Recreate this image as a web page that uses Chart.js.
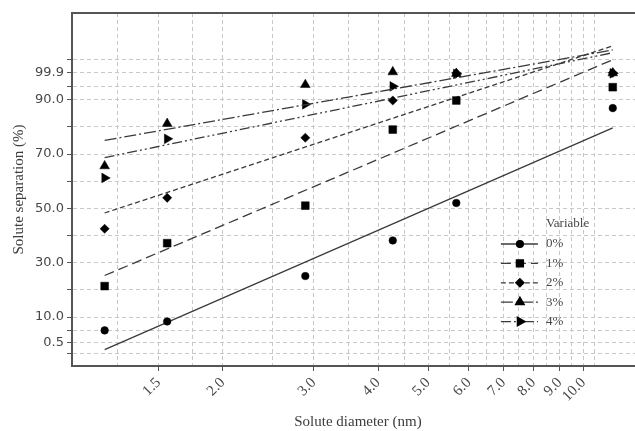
<!DOCTYPE html>
<html>
<head>
<meta charset="utf-8">
<script src="https://cdn.jsdelivr.net/npm/chart.js@4"></script>
<style>
  html, body { margin: 0; padding: 0; background: #fff; overflow: hidden; }
  #wrap { width: 650px; height: 431px; }
</style>
</head>
<body>
<div id="wrap"><canvas id="chart" width="650" height="431"></canvas></div>
<script>
// Solute diameter (nm) of each measured point
const diameters = [1.18, 1.56, 2.89, 4.27, 5.67, 11.4];

// Solute separation (%) per variable level
const sep0 = [5.1, 8.4, 25.1, 38.2, 52.0, 86.9];
const sep1 = [21.4, 37.2, 51.0, 79.0, 89.7, 94.6];
const sep2 = [42.5, 53.9, 76.0, 89.7, 99.8, 99.9];
const sep3 = [65.6, 81.2, 95.5, 100.2, 99.6, 99.8];
const sep4 = [61.2, 75.6, 88.3, 94.9, 99.5, 99.7];

// fitted lines: end points
const fitX = [1.18, 11.4];
const fit0 = [-2.0, 79.6];
const fit1 = [25.3, 104.7];
const fit2 = [48.3, 109.8];
const fit3 = [75.0, 108.3];
const fit4 = [68.7, 107.3];

const seriesNames = ['0%', '1%', '2%', '3%', '4%'];

// axis ticks / grid lines
const xGrid = [1.25, 1.5, 1.75, 2, 2.5, 3, 3.5, 4, 4.5, 5, 5.5, 6, 6.5, 7, 7.5, 8, 8.5, 9, 9.5, 10, 10.5];
const xLabels = [1.5, 2, 3, 4, 5, 6, 7, 8, 9, 10];
const yGrid = [-3.5, 0.5, 5, 10, 20, 30, 40, 50, 60, 70, 80, 90, 95, 99.9, 104.8];
const yLabels = [0.5, 10, 30, 50, 70, 90, 99.9];

const sepData = [sep0, sep1, sep2, sep3, sep4];
const fitData = [fit0, fit1, fit2, fit3, fit4];

// styles
const lineColor = '#3a3a3a';
const gridColor = '#c8c8c8';
const textColor = '#484848';
const dashes = [[], [10, 5], [5, 3], [12, 3, 2, 3], [10, 3, 2, 3, 2, 3]];
const pointStyles = ['circle', 'rect', 'rectRot', 'triangle', 'triangle'];
const pointSizes = [3.8, 5.5, 4.6, 5.6, 5.6];
const pointTurns = [0, 0, 0, 0, 90];

const datasets = [];
seriesNames.forEach((name, i) => {
    datasets.push({
        label: name,
        data: diameters.map((d, j) => ({ x: d, y: sepData[i][j] })),
        showLine: false,
        pointStyle: pointStyles[i],
        pointRadius: pointSizes[i],
        pointRotation: pointTurns[i],
        pointBackgroundColor: '#000',
        pointBorderColor: '#000',
        pointBorderWidth: 0.5,
    });
    datasets.push({
        label: name + ' fit',
        data: fitX.map((d, j) => ({ x: d, y: fitData[i][j] })),
        showLine: true,
        borderColor: lineColor,
        borderWidth: 1.3,
        borderDash: dashes[i],
        pointRadius: 0,
        fill: false,
    });
});

// legend drawn inside the plot, like the original
const insideLegend = {
    id: 'insideLegend',
    afterDatasetsDraw(chart) {
        const ctx = chart.ctx;
        const area = chart.chartArea;
        const x0 = area.right - 143;
        const y0 = area.top + 231;
        ctx.save();
        ctx.font = '13px "Liberation Serif"';
        ctx.textBaseline = 'middle';
        ctx.fillStyle = textColor;
        ctx.fillText('Variable', x0 + 45, y0 - 20);
        seriesNames.forEach((name, i) => {
            const y = y0 + i * 19.4;
            ctx.strokeStyle = lineColor;
            ctx.lineWidth = 1.3;
            ctx.setLineDash(dashes[i]);
            ctx.beginPath();
            ctx.moveTo(x0, y);
            ctx.lineTo(x0 + 37, y);
            ctx.stroke();
            ctx.setLineDash([]);
            ctx.fillStyle = '#000';
            ctx.strokeStyle = '#000';
            Chart.helpers.drawPoint(ctx, {
                pointStyle: pointStyles[i],
                radius: pointSizes[i] * 0.9,
                rotation: pointTurns[i],
                borderWidth: 0.5
            }, x0 + 19, y);
            ctx.fillStyle = textColor;
            ctx.fillText(name, x0 + 45, y);
        });
        ctx.restore();
    }
};

// top edge of the frame
const frame = {
    id: 'frame',
    afterDraw(chart) {
        const ctx = chart.ctx;
        const a = chart.chartArea;
        ctx.save();
        ctx.strokeStyle = '#555';
        ctx.lineWidth = 2;
        ctx.beginPath();
        ctx.moveTo(a.left, a.top);
        ctx.lineTo(a.right, a.top);
        ctx.lineTo(a.right, a.bottom);
        ctx.stroke();
        ctx.restore();
    }
};

new Chart(document.getElementById('chart').getContext('2d'), {
    type: 'scatter',
    data: { datasets: datasets },
    plugins: [insideLegend, frame],
    options: {
        responsive: false,
        animation: false,
        layout: { padding: { top: 13, right: 2, left: 0, bottom: 0 } },
        plugins: {
            legend: { display: false },
            tooltip: { enabled: false }
        },
        scales: {
            x: {
                type: 'logarithmic',
                min: 1.02,
                max: 13.1,
                afterBuildTicks: (scale) => { scale.ticks = xGrid.map(v => ({ value: v })); },
                afterFit: (scale) => { scale.height = 65; },
                ticks: {
                    autoSkip: false,
                    minRotation: 45,
                    maxRotation: 45,
                    color: textColor,
                    font: { family: 'Liberation Serif', size: 15 },
                    callback: (v) => xLabels.includes(v) ? v.toFixed(1) : ''
                },
                grid: {
                    color: gridColor,
                    tickLength: 5,
                    tickColor: (c) => (c.tick && c.tick.label) ? '#555' : 'rgba(0,0,0,0)',
                    tickBorderDash: []
                },
                border: { display: true, color: '#555', width: 2, dash: [4, 3] },
                title: {
                    display: true,
                    text: 'Solute diameter (nm)',
                    color: '#3c3c3c',
                    font: { family: 'Liberation Serif', size: 15 },
                    padding: { top: 0, bottom: 0 }
                }
            },
            y: {
                min: -8,
                max: 121.9,
                afterBuildTicks: (scale) => { scale.ticks = yGrid.map(v => ({ value: v })); },
                afterFit: (scale) => { scale.width = 72; },
                ticks: {
                    autoSkip: false,
                    color: textColor,
                    padding: 3,
                    font: { family: 'DejaVu Sans', size: 13 },
                    callback: (v) => yLabels.includes(v) ? v.toFixed(1) : ''
                },
                grid: {
                    color: gridColor,
                    tickLength: 5,
                    tickColor: '#555',
                    tickBorderDash: []
                },
                border: { display: true, color: '#555', width: 2, dash: [4, 3] },
                title: {
                    display: true,
                    text: 'Solute separation (%)',
                    color: '#3c3c3c',
                    font: { family: 'Liberation Serif', size: 15 },
                    padding: { top: 10, bottom: 0 }
                }
            }
        }
    }
});
</script>
</body>
</html>
